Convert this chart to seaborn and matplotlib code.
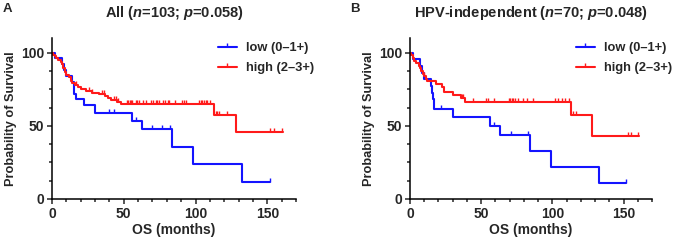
import numpy as np
import pandas as pd
import matplotlib
matplotlib.use("Agg")
import matplotlib.pyplot as plt
from matplotlib.lines import Line2D
from matplotlib.ticker import MultipleLocator
import seaborn as sns

# ---------------- data ----------------
# Panel A: All (n=103)
low_A_t = [0, 2, 7, 8.5, 9.5, 14, 15, 15.5, 17, 22, 30, 55.5, 62.5, 83.5, 98.5, 132.5, 152]
low_A_s = [100, 96, 92, 88, 84, 80, 76, 72, 68, 64, 59, 53.5, 47.5, 35.5, 23.8, 11.9, 11.9]
low_A_c = [40, 43, 58.5, 70, 76.5, 82, 152]

high_A_t = [0, 1, 2, 3, 4.5, 6, 7, 8, 9, 10, 11.5, 13, 14, 16, 18, 20, 24, 28, 33, 37,
            39, 41, 45, 48, 113, 128, 161]
high_A_s = [100, 98.7, 97.4, 96.1, 94.8, 93.5, 92.2, 89.6, 87.0, 84.4, 83.1, 80.5, 79.2,
            77.9, 76.6, 75.3, 74.0, 72.7, 71.4, 70.1, 68.8, 67.5, 66.2, 64.9, 57.5, 46.0, 46.0]
high_A_c = [16.5, 26, 28, 35, 36.5, 43.5, 44.5, 46, 52.5, 53, 54, 55, 56, 58.5, 59.5, 60.5,
            63.5, 65.5, 69, 70.5, 72.5, 73.5, 74.5, 77.5, 79, 80.5, 81.5, 86, 90.5, 92, 93.5,
            102.5, 103.5, 104.5, 106, 107, 108, 110, 114, 115, 116.5, 122, 152, 154.5, 160]

# Panel B: HPV-independent (n=70)
low_B_t = [0, 2, 7, 8.5, 9.5, 15, 15.5, 16, 17, 30, 56, 63, 84.5, 99, 133, 152]
low_B_s = [100, 95.5, 91, 86.4, 81.8, 77.3, 72.7, 68.2, 61.4, 55.7, 50, 43.9, 32.7, 21.8, 10.9, 10.9]
low_B_c = [22, 59, 71, 83, 152]

high_B_t = [0, 1, 2, 3, 4.5, 6, 7, 8, 9, 10, 11, 12, 18, 22.5, 24, 30, 36, 38.5, 113, 128, 161]
high_B_s = [100, 98.2, 96.4, 94.6, 92.8, 91.1, 89.3, 87.5, 85.7, 83.9, 82.1, 80.3, 78.5,
            76.7, 73.0, 71.0, 69.0, 66.0, 57.5, 43.3, 43.3]
high_B_c = [10, 36.5, 37.3, 44.3, 53.6, 54.5, 58.7, 69.2, 70.3, 72, 72.7, 73.8, 76.2, 79.7,
            82, 86.2, 101.8, 104.1, 106.5, 109.2, 111.6, 114.8, 116.5, 153, 155.4, 160]

labels = ["low (0\u20131+)", "high (2\u20133+)"]
titles = ["All ($n$=103; $p$=0.058)", "HPV-independent ($n$=70; $p$=0.048)"]
panel_letters = ["A", "B"]

# ---------------- style ----------------
sns.set_theme(style="ticks")
plt.rcParams["font.family"] = ["Liberation Sans", "DejaVu Sans"]
plt.rcParams["font.weight"] = "bold"
plt.rcParams["mathtext.fontset"] = "custom"
plt.rcParams["mathtext.it"] = "Liberation Sans:italic:bold"
plt.rcParams["mathtext.rm"] = "Liberation Sans:bold"
plt.rcParams["mathtext.bf"] = "Liberation Sans:bold"

BLUE = "#1414FF"
RED = "#FF1A1A"
tick_marker = [(0, 0), (0, 1)]
W, H = 674, 246

fig = plt.figure(figsize=(6.74, 2.46), dpi=100)
axA = fig.add_axes([52 / W, 1 - 199 / H, 244 / W, 161 / H])
axB = fig.add_axes([410 / W, 1 - 199 / H, 242 / W, 161 / H])


def surv_at(t_list, s_list, c):
    t = np.asarray(t_list)
    s = np.asarray(s_list)
    idx = np.searchsorted(t, np.asarray(c), side="right") - 1
    return s[idx]


def draw(ax, curves, title, letter, x_letter, leg_x):
    for (t, s, c, col, lab) in curves:
        df = pd.DataFrame({"t": t, "s": s})
        sns.lineplot(data=df, x="t", y="s", ax=ax, color=col, lw=1.5,
                     drawstyle="steps-post", estimator=None, sort=False,
                     legend=False)
        ax.plot(c, surv_at(t, s, c), ls="none", marker=tick_marker, ms=5.5,
                mew=1.0, color=col)
    ax.set_xlim(0, 170)
    ax.set_ylim(0, 110)
    ax.xaxis.set_major_locator(MultipleLocator(50))
    ax.xaxis.set_minor_locator(MultipleLocator(10))
    ax.yaxis.set_major_locator(MultipleLocator(50))
    ax.yaxis.set_minor_locator(MultipleLocator(12.5))
    ax.tick_params(which="major", length=3.5, width=1.1, labelsize=10, pad=2)
    ax.tick_params(which="minor", length=2.5, width=1.1)
    for lab in ax.get_xticklabels() + ax.get_yticklabels():
        lab.set_fontweight("bold")
    for sp in ["top", "right"]:
        ax.spines[sp].set_visible(False)
    for sp in ["left", "bottom"]:
        ax.spines[sp].set_linewidth(1.1)
        ax.spines[sp].set_color("black")
    ax.set_xlabel("OS (months)", fontsize=10, fontweight="bold", labelpad=2)
    ax.set_ylabel("Probability of Survival", fontsize=9.2, fontweight="bold", labelpad=3)
    ax.set_title(title, fontsize=10.5, fontweight="bold", pad=15)
    fig.text(x_letter, 0.965, letter, fontsize=9.5, fontweight="bold", va="center")
    handles = [Line2D([0], [0], color=curves[0][3], lw=1.5, marker=tick_marker,
                      ms=5.5, mew=1.0),
               Line2D([0], [0], color=curves[1][3], lw=1.5, marker=tick_marker,
                      ms=5.5, mew=1.0)]
    fig.legend(handles, labels, loc="upper left",
               bbox_to_anchor=(leg_x / W, 1 - 42 / H), bbox_transform=fig.transFigure,
               frameon=False, fontsize=9.3, handlelength=1.45, handletextpad=0.75,
               labelspacing=0.65, borderpad=0, borderaxespad=0)


draw(axA, [(low_A_t, low_A_s, low_A_c, BLUE, labels[0]),
           (high_A_t, high_A_s, high_A_c, RED, labels[1])],
     titles[0], panel_letters[0], 0.004, 218)
draw(axB, [(low_B_t, low_B_s, low_B_c, BLUE, labels[0]),
           (high_B_t, high_B_s, high_B_c, RED, labels[1])],
     titles[1], panel_letters[1], 0.519, 576)

fig.savefig("out.png", dpi=100)
